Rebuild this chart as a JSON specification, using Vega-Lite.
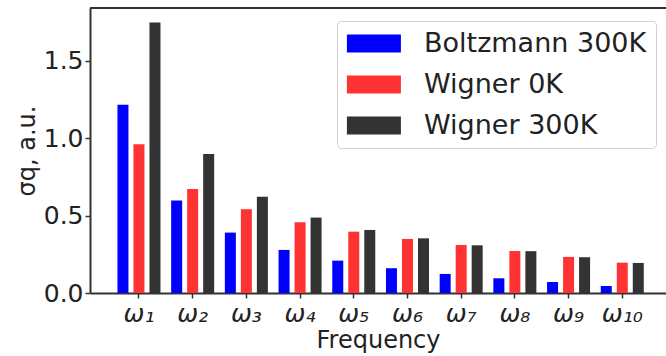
{
  "$schema": "https://vega.github.io/schema/vega-lite/v6.json",
  "autosize": "none",
  "width": 576,
  "height": 285,
  "padding": {"left": 90, "top": 8, "right": 0, "bottom": 63},
  "background": "white",
  "config": {
    "font": "DejaVu Sans",
    "view": {"stroke": null},
    "axis": {
      "labelFont": "DejaVu Sans",
      "titleFont": "DejaVu Sans",
      "labelColor": "#222",
      "titleColor": "#222",
      "titleFontWeight": "normal",
      "domainColor": "#333",
      "domainWidth": 2,
      "tickColor": "#333",
      "tickWidth": 1.5,
      "tickSize": 5,
      "grid": false
    }
  },
  "data": {
    "values": [
      {"freq": "ω₁", "series": "Boltzmann 300K", "value": 1.215},
      {"freq": "ω₁", "series": "Wigner 0K", "value": 0.96},
      {"freq": "ω₁", "series": "Wigner 300K", "value": 1.747},
      {"freq": "ω₂", "series": "Boltzmann 300K", "value": 0.597},
      {"freq": "ω₂", "series": "Wigner 0K", "value": 0.672},
      {"freq": "ω₂", "series": "Wigner 300K", "value": 0.898},
      {"freq": "ω₃", "series": "Boltzmann 300K", "value": 0.39},
      {"freq": "ω₃", "series": "Wigner 0K", "value": 0.541},
      {"freq": "ω₃", "series": "Wigner 300K", "value": 0.622},
      {"freq": "ω₄", "series": "Boltzmann 300K", "value": 0.278},
      {"freq": "ω₄", "series": "Wigner 0K", "value": 0.457},
      {"freq": "ω₄", "series": "Wigner 300K", "value": 0.487},
      {"freq": "ω₅", "series": "Boltzmann 300K", "value": 0.209},
      {"freq": "ω₅", "series": "Wigner 0K", "value": 0.396},
      {"freq": "ω₅", "series": "Wigner 300K", "value": 0.407},
      {"freq": "ω₆", "series": "Boltzmann 300K", "value": 0.16},
      {"freq": "ω₆", "series": "Wigner 0K", "value": 0.349},
      {"freq": "ω₆", "series": "Wigner 300K", "value": 0.353},
      {"freq": "ω₇", "series": "Boltzmann 300K", "value": 0.123},
      {"freq": "ω₇", "series": "Wigner 0K", "value": 0.31},
      {"freq": "ω₇", "series": "Wigner 300K", "value": 0.308},
      {"freq": "ω₈", "series": "Boltzmann 300K", "value": 0.095},
      {"freq": "ω₈", "series": "Wigner 0K", "value": 0.271},
      {"freq": "ω₈", "series": "Wigner 300K", "value": 0.27},
      {"freq": "ω₉", "series": "Boltzmann 300K", "value": 0.071},
      {"freq": "ω₉", "series": "Wigner 0K", "value": 0.233},
      {"freq": "ω₉", "series": "Wigner 300K", "value": 0.231},
      {"freq": "ω₁₀", "series": "Boltzmann 300K", "value": 0.045},
      {"freq": "ω₁₀", "series": "Wigner 0K", "value": 0.196},
      {"freq": "ω₁₀", "series": "Wigner 300K", "value": 0.194}
    ]
  },
  "layer": [
    {
      "mark": {"type": "bar"},
      "encoding": {
        "x": {
          "field": "freq",
          "type": "nominal",
          "sort": null,
          "scale": {"paddingInner": 0.1, "paddingOuter": 0.413, "align": 0.559},
          "axis": {
            "title": "Frequency",
            "labelAngle": 0,
            "labelFontSize": 25,
            "labelFontStyle": "italic",
            "labelPadding": 3,
            "titleFontSize": 24,
            "titlePadding": 2
          }
        },
        "xOffset": {
          "field": "series",
          "type": "nominal",
          "sort": ["Boltzmann 300K", "Wigner 0K", "Wigner 300K"],
          "scale": {"paddingInner": 0.3125, "paddingOuter": 0.166}
        },
        "y": {
          "field": "value",
          "type": "quantitative",
          "scale": {"domain": [0, 1.84], "nice": false, "zero": true},
          "axis": {
            "title": "σq, a.u.",
            "values": [0, 0.5, 1.0, 1.5],
            "format": ".1f",
            "labelFontSize": 25,
            "labelPadding": 2,
            "titleFontSize": 24,
            "titlePadding": 4
          }
        },
        "color": {
          "field": "series",
          "type": "nominal",
          "sort": ["Boltzmann 300K", "Wigner 0K", "Wigner 300K"],
          "scale": {
            "domain": ["Boltzmann 300K", "Wigner 0K", "Wigner 300K"],
            "range": ["#0000ff", "#ff3333", "#333333"]
          },
          "legend": {
            "title": null,
            "orient": "none",
            "legendX": 247,
            "legendY": 13,
            "symbolType": "M-1.4,-1L4.6,-1L4.6,1L-1.4,1Z",
            "symbolSize": 324,
            "symbolStrokeWidth": 0,
            "symbolOpacity": 1,
            "labelFontSize": 27,
            "labelColor": "#222",
            "labelOffset": 51,
            "labelLimit": 400,
            "rowPadding": 13,
            "padding": 9,
            "strokeColor": "#d0d0d0",
            "fillColor": "white",
            "cornerRadius": 4
          }
        }
      }
    },
    {
      "data": {"values": [{}]},
      "mark": {"type": "rule", "color": "#333", "strokeWidth": 2},
      "encoding": {"y": {"datum": 1.84}}
    }
  ]
}
